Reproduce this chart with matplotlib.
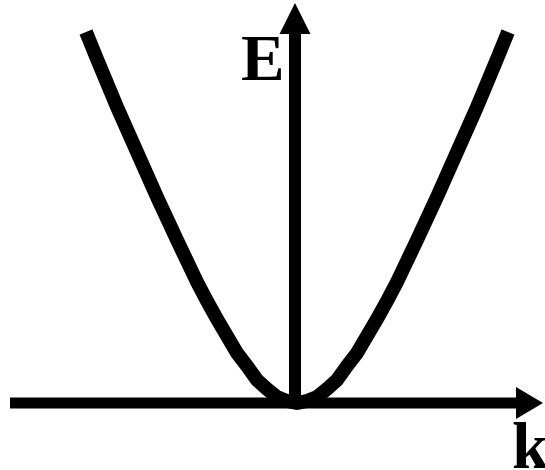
import matplotlib
matplotlib.use('Agg')
import matplotlib.pyplot as plt
import numpy as np

# dispersion (one half, mirrored), units of 100 px
k_half = [0, 0.1, 0.2, 0.3, 0.4, 0.5, 0.6, 0.7, 0.8, 0.9, 1.0, 1.2, 1.4, 1.6, 1.8, 2.0, 2.11]
E_half = [0, 0.02, 0.06, 0.14, 0.23, 0.37, 0.50, 0.67, 0.84, 1.02, 1.21, 1.63, 2.06, 2.51, 2.96, 3.44, 3.71]

k = np.concatenate([-np.array(k_half[::-1]), np.array(k_half[1:])])
E = np.concatenate([np.array(E_half[::-1]), np.array(E_half[1:])])

fig = plt.figure(figsize=(5.45, 4.70), dpi=100)
ax = fig.add_axes([0, 0, 1, 1])
ax.set_xlim(-2.96, 2.49)
ax.set_ylim(-0.67, 4.03)
ax.axis('off')

ax.plot(k + 0.01, E, color='black', lw=10, solid_capstyle='butt', solid_joinstyle='round')

# axes arrows
ax.arrow(-2.86, 0, 5.33, 0, width=0.11, head_width=0.32, head_length=0.27,
         length_includes_head=True, color='black', lw=0)
ax.arrow(-0.01, 0, 0, 4.0, width=0.12, head_width=0.31, head_length=0.31,
         length_includes_head=True, color='black', lw=0)

ax.text(-0.335, 3.23, 'E', fontsize=47, fontweight='bold', family='Liberation Serif',
        ha='center', va='baseline')
ax.text(2.34, -0.65, 'k', fontsize=47, fontweight='bold', family='Liberation Serif',
        ha='center', va='baseline')

plt.savefig('out.png', dpi=100)
